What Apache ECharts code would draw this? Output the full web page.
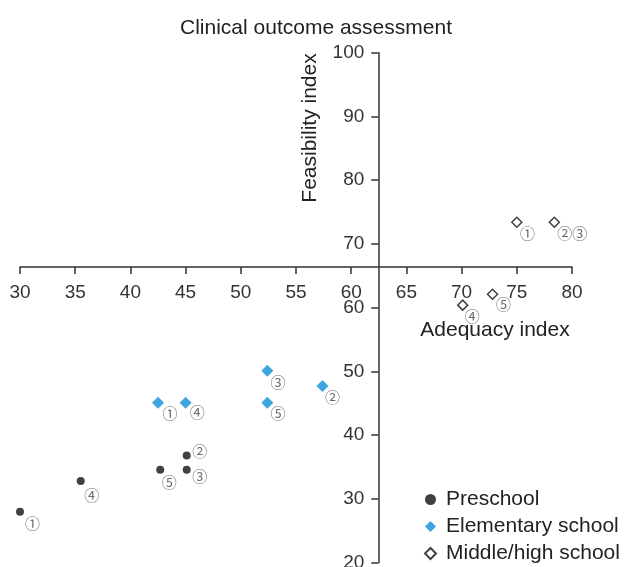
<!DOCTYPE html>
<html><head><meta charset="utf-8">
<script src="https://cdn.jsdelivr.net/npm/echarts@6/dist/echarts.min.js"></script>
<style>html,body{margin:0;padding:0;background:#fff;overflow:hidden}#c{width:632px;height:567px}</style>
</head><body><div id="c"></div>
<script>
const xTicks = [30, 80, 5];
const yTicks = [20, 100, 10];
const preschool = [[30.0, 28.0], [45.1, 36.8], [45.1, 34.6], [35.5, 32.8], [42.7, 34.6]];
const preschoolLabels = ['①', '②', '③', '④', '⑤'];
const elementary = [[42.5, 45.1], [57.4, 47.7], [52.4, 50.1], [45.0, 45.1], [52.4, 45.1]];
const elementaryLabels = ['①', '②', '③', '④', '⑤'];
const middle = [[75.0, 73.4], [78.4, 73.4], [70.1, 60.4], [72.8, 62.1]];
const middleLabels = ['①', '②③', '④', '⑤'];
const seriesNames = ['Preschool', 'Elementary school', 'Middle/high school'];

// label placement (styling, pixels relative to marker)
const preschoolLabelOffsets = [[12.5, 11.5], [13, -4.5], [13, 7], [11, 14], [9, 13]];
const elementaryLabelOffsets = [[12, 10.5], [10, 11.3], [10.6, 11.6], [11.7, 9.6], [10.6, 11]];
const middleLabelOffsets = [[10.6, 11], [3, 11], [9.6, 10.7], [11, 10]];

const FONT = 'Liberation Sans, Arial, sans-serif';
const gridLeft = 20, gridWidth = 552, gridTop = 52.7, gridHeight = 510;
const crossY = 267, crossX = 378.3;

function pts(data, labels, offsets, alignLeftIdx) {
  return data.map((d, i) => ({
    value: d,
    label: {
      formatter: labels[i], offset: offsets[i],
      align: (alignLeftIdx === i) ? 'left' : 'center'
    }
  }));
}
const baseLabel = {
  show: true, position: 'inside', align: 'center', verticalAlign: 'middle',
  fontFamily: 'Noto Sans CJK JP, DejaVu Sans, sans-serif', fontSize: 15, color: '#444'
};

const chart = echarts.init(document.getElementById('c'), null, {renderer: 'canvas'});
chart.setOption({
  animation: false,
  title: {text: 'Clinical outcome assessment', left: 'center', top: 13,
    textStyle: {fontFamily: FONT, fontSize: 21, fontWeight: 'normal', color: '#222'}},
  grid: {left: gridLeft, width: gridWidth, top: gridTop, height: gridHeight,
    outerBoundsMode: 'none', containLabel: false},
  xAxis: {
    type: 'value', min: xTicks[0], max: xTicks[1], interval: xTicks[2],
    position: 'bottom', offset: -((gridTop + gridHeight) - crossY),
    splitLine: {show: false},
    axisLine: {onZero: false, lineStyle: {color: '#333', width: 1.5}},
    axisTick: {inside: false, length: 7, lineStyle: {color: '#333', width: 1.5}},
    axisLabel: {fontFamily: FONT, fontSize: 19, color: '#333', margin: 16}
  },
  yAxis: {
    type: 'value', min: yTicks[0], max: yTicks[1], interval: yTicks[2],
    position: 'left', offset: -(crossX - gridLeft),
    splitLine: {show: false},
    axisLine: {onZero: false, lineStyle: {color: '#333', width: 1.5}},
    axisTick: {inside: false, length: 7, lineStyle: {color: '#333', width: 1.5}},
    axisLabel: {fontFamily: FONT, fontSize: 19, color: '#333', margin: 14}
  },
  graphic: [
    {type: 'text', x: 310, y: 128, rotation: Math.PI / 2, style: {text: 'Feasibility index',
      font: '21px ' + FONT, fill: '#222', textAlign: 'center', textVerticalAlign: 'middle'}},
    {type: 'text', x: 495, y: 330, style: {text: 'Adequacy index',
      font: '21px ' + FONT, fill: '#222', textAlign: 'center', textVerticalAlign: 'middle'}}
  ],
  legend: {
    orient: 'vertical', left: 424, top: 489, height: 80, itemGap: 6, itemWidth: 11, itemHeight: 11,
    padding: 0,
    textStyle: {fontFamily: FONT, fontSize: 21, color: '#222', padding: [0, 0, 0, 5]},
    data: seriesNames
  },
  series: [
    {name: seriesNames[0], type: 'scatter', symbol: 'circle', symbolSize: 8,
      data: pts(preschool, preschoolLabels, preschoolLabelOffsets),
      itemStyle: {color: '#111'}, label: baseLabel},
    {name: seriesNames[1], type: 'scatter', symbol: 'diamond', symbolSize: 12,
      data: pts(elementary, elementaryLabels, elementaryLabelOffsets),
      itemStyle: {color: '#0e8fd8'}, label: baseLabel},
    {name: seriesNames[2], type: 'scatter', symbol: 'diamond', symbolSize: 10,
      data: pts(middle, middleLabels, middleLabelOffsets, 1),
      itemStyle: {color: '#fff', borderColor: '#111', borderWidth: 1.5}, label: baseLabel}
  ]
});
</script></body></html>
